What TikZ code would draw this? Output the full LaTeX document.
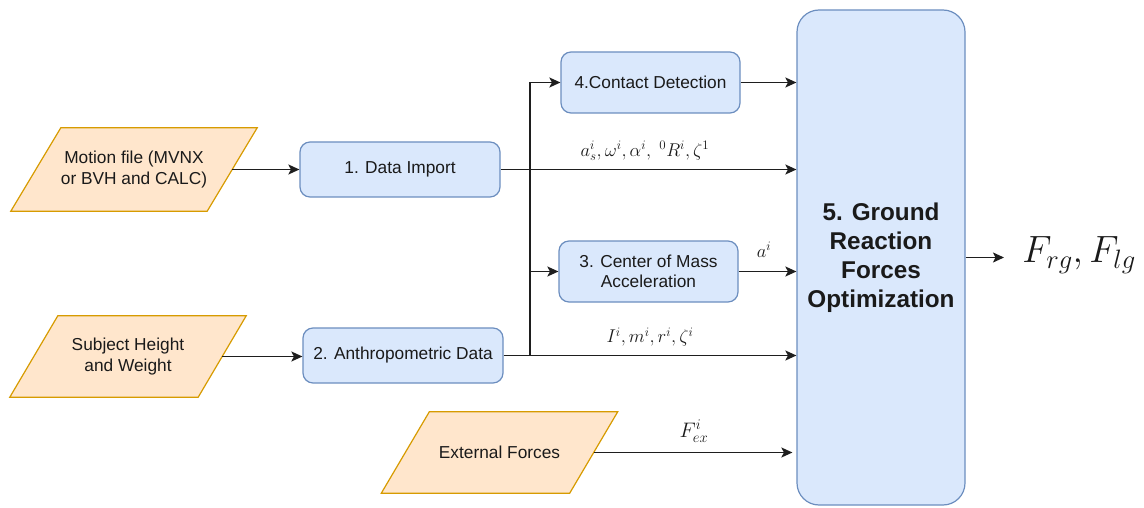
\RequirePackage{fix-cm}
\documentclass[tikz,border=0pt]{standalone}
\usepackage[no-math]{fontspec}
\setmainfont{Liberation Sans}
\usetikzlibrary{arrows.meta,backgrounds,calc}

\definecolor{bluefill}{HTML}{DAE8FC}
\definecolor{blueline}{HTML}{6C8EBF}
\definecolor{orfill}{HTML}{FFE6CC}
\definecolor{orline}{HTML}{D79B00}
\definecolor{ink}{HTML}{1A1A1A}
\definecolor{linecol}{HTML}{1E1E1E}

\tikzset{
  x=1pt, y=-1pt,
  txt/.style={font=\fontsize{17.3}{20.5}\selectfont, text=ink, align=center, inner sep=0pt},
  proc/.style={txt, draw=blueline, fill=bluefill, line width=1.2pt, rounded corners=10pt},
  iobox/.style={txt},
  slanted/.style={draw=orline, fill=orfill, line width=1.2pt, line join=miter},
  arr/.style={draw=linecol, line width=1.5pt, -{Stealth[length=11pt,width=10pt,inset=2.5pt]}},
  lab/.style={font=\fontsize{18.5}{22}\selectfont, text=ink, inner sep=0pt},
}

% parallelogram drawn behind a text node: #1 node, #2 half of the horizontal slant
\newcommand{\paraback}[2]{%
  \begin{scope}[on background layer]
    \draw[slanted] ([xshift=#2]#1.north west) -- ([xshift=#2]#1.north east)
      -- ([xshift=-#2]#1.south east) -- ([xshift=-#2]#1.south west) -- cycle;
  \end{scope}}

\begin{document}
\begin{tikzpicture}
\useasboundingbox (0,0) rectangle (1144,508);

% inputs
\node[iobox, minimum width=196pt, minimum height=83pt] (motion) at (134,169.5)
  {Motion file (MVNX\\or BVH and CALC)};
\paraback{motion}{25pt}
\node[iobox, minimum width=188pt, minimum height=81pt] (subject) at (128,356.5)
  {Subject Height\\and Weight};
\paraback{subject}{24pt}
\node[iobox, minimum width=188pt, minimum height=81pt] (ext) at (499.5,452.5)
  {External Forces};
\paraback{ext}{24pt}

% processing steps
\node[proc, minimum width=200pt, minimum height=55pt] (import) at (400,169.5) {1. Data Import};
\node[proc, minimum width=200pt, minimum height=55pt] (anthro) at (403,355.5) {2. Anthropometric Data};
\node[proc, minimum width=179pt, minimum height=61pt] (contact) at (650.5,82.5) {4.Contact Detection};
\node[proc, minimum width=179pt, minimum height=61pt] (com) at (648.5,271.5) {3. Center of Mass\\Acceleration};
\node[proc, minimum width=168pt, minimum height=495pt, rounded corners=22pt,
      font=\fontsize{24.3}{29}\selectfont\bfseries] (big) at (881,257.5)
  {5. Ground\\Reaction\\Forces\\Optimization};

% connectors
\coordinate (split) at (530,355.5);
\coordinate (outend) at (1004,257.5);
\draw[arr] (motion.east) -- (motion.east -| import.west);
\draw[arr] (subject.east) -- (subject.east -| anthro.west);
\draw[arr] (import.east) -- (import.east -| big.west);
\draw[arr] (anthro.east) -- (anthro.east -| big.west);
\draw[arr] (split) |- (contact.west);
\draw[arr] (split |- com.west) -- (com.west);
\draw[arr] (contact.east) -- (contact.east -| big.west);
\draw[arr] (com.east) -- (com.east -| big.west);
\draw[arr, shorten >=4pt] (ext.east) -- (ext.east -| big.west);
\draw[arr] (big.east) -- (outend);

% signal labels
\node[lab] (lbA) at (645,151) {$a_s^i,\omega^i,\alpha^i,\ {}^0R^i,\zeta^1$};
\node[lab] (lbB) at (650,337) {$I^i,m^i,r^i,\zeta^i$};
\node[lab] (lbC) at (764,250) {$a^i$};
\node[lab, font=\fontsize{21}{25}\selectfont] (lbD) at (694,431) {$F_{ex}^i$};
\node[lab, font=\fontsize{38}{44}\selectfont] (out) at (1079,255) {$F_{rg},F_{lg}$};
\end{tikzpicture}
\end{document}
